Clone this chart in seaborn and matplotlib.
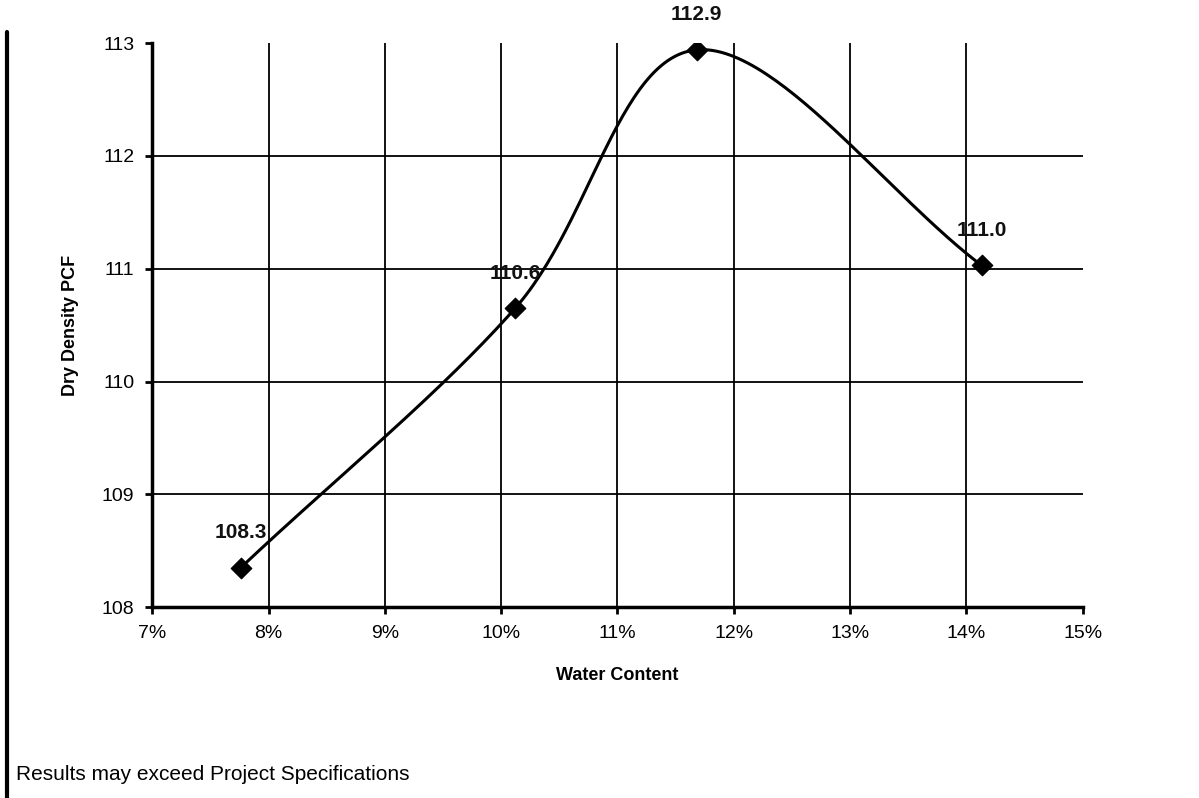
import numpy as np
import pandas as pd
import matplotlib
matplotlib.use('agg')
import seaborn as sns
import matplotlib.pyplot as plt
from matplotlib.lines import Line2D

# proctor test points
water_content = [7.76, 10.12, 11.68, 14.13]   # percent
dry_density = [108.35, 110.65, 112.94, 111.03]
point_labels = ["108.3", "110.6", "112.9", "111.0"]

x_ticks = [7, 8, 9, 10, 11, 12, 13, 14, 15]
y_ticks = [108, 109, 110, 111, 112, 113]


def smooth(x, y, n=60):
    # Catmull-Rom style smoothing, like a spreadsheet "smoothed line"
    x = np.asarray(x, float)
    y = np.asarray(y, float)
    px = np.concatenate([[2 * x[0] - x[1]], x, [2 * x[-1] - x[-2]]])
    py = np.concatenate([[2 * y[0] - y[1]], y, [2 * y[-1] - y[-2]]])
    xs, ys = [], []
    t = np.linspace(0, 1, n)
    for i in range(1, len(px) - 2):
        p0, p1, p2, p3 = [np.array([px[j], py[j]]) for j in range(i - 1, i + 3)]
        c1 = p1 + (p2 - p0) / 6.0
        c2 = p2 - (p3 - p1) / 6.0
        pts = (np.outer((1 - t) ** 3, p1) + np.outer(3 * (1 - t) ** 2 * t, c1)
               + np.outer(3 * (1 - t) * t ** 2, c2) + np.outer(t ** 3, p2))
        xs.append(pts[:, 0])
        ys.append(pts[:, 1])
    return np.concatenate(xs), np.concatenate(ys)


sns.set_theme(style="white")
plt.rcParams['font.family'] = ['Liberation Sans', 'DejaVu Sans']
plt.rcParams['text.color'] = 'black'
plt.rcParams['axes.labelcolor'] = 'black'

fig = plt.figure(figsize=(11.99, 7.98), dpi=100)
ax = fig.add_axes([0.127, 0.239, 0.776, 0.707])

df = pd.DataFrame({"wc": water_content, "dd": dry_density})
sx, sy = smooth(df["wc"], df["dd"])
ax.plot(sx, sy, color="black", lw=2.2, zorder=3)
sns.scatterplot(data=df, x="wc", y="dd", marker="D", s=110, color="black",
                edgecolor="black", ax=ax, zorder=4)

# gridlines
for xv in x_ticks[1:-1]:
    ax.axvline(xv, color="black", lw=1.3, zorder=1)
for yv in y_ticks[1:-1]:
    ax.axhline(yv, color="black", lw=1.3, zorder=1)

for x, y, lab in zip(water_content, dry_density, point_labels):
    ax.text(x, y + 0.31, lab, ha="center", va="center", fontsize=15,
            fontweight="bold", color="#111111", zorder=5)

ax.set_xlim(7, 15)
ax.set_ylim(108, 113)
ax.set_xticks(x_ticks)
ax.set_xticklabels([f"{v}%" for v in x_ticks])
ax.set_yticks(y_ticks)
ax.tick_params(axis="both", labelsize=14, colors="black", length=5, width=2,
               direction="out", bottom=True, left=True, pad=8)
for side in ["top", "right"]:
    ax.spines[side].set_visible(False)
for side in ["left", "bottom"]:
    ax.spines[side].set_color("black")
    ax.spines[side].set_linewidth(2.5)
ax.set_xlabel("Water Content", fontsize=13, fontweight="bold", labelpad=18)
ax.set_ylabel("Dry Density PCF", fontsize=13, fontweight="bold", labelpad=16)

# left border line of the report page
fig.add_artist(Line2D([0.006, 0.006], [0.0, 0.96], color="black", lw=3,
                      transform=fig.transFigure))
fig.text(0.013, 0.029, "Results may exceed Project Specifications",
         fontsize=15, color="black", va="center")

fig.savefig("out.png", dpi=100)
